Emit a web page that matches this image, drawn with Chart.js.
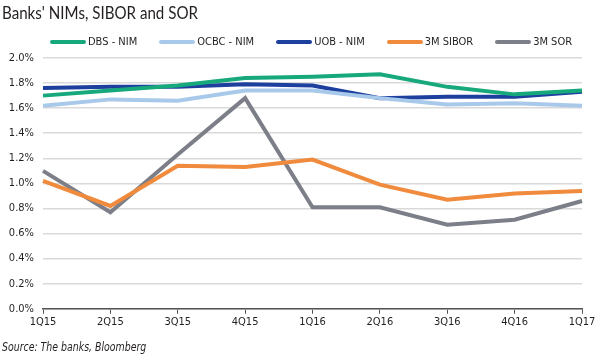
<!DOCTYPE html>
<html>
<head>
<meta charset="utf-8">
<script src="https://cdn.jsdelivr.net/npm/chart.js@4/dist/chart.umd.min.js"></script>
<style>
  body { margin: 0; background: #fff; }
  #wrap { position: relative; width: 600px; height: 360px; }
  #title { position: absolute; left: 2px; top: 1px; font-family: Lato, sans-serif; font-size: 18px; color: #231f20; transform: scaleX(0.84); transform-origin: 0 0; white-space: nowrap; }
  #source { position: absolute; left: 2px; top: 340px; font-family: "DejaVu Sans Condensed", sans-serif; font-style: italic; font-size: 12px; color: #231f20; transform: scaleX(0.87); transform-origin: 0 0; white-space: nowrap; }
  #legend { position: absolute; left: 50px; top: 35px; display: flex; font-family: "DejaVu Sans Condensed", sans-serif; font-size: 11px; color: #231f20; }
  .item { display: flex; align-items: center; margin-right: 22px; white-space: nowrap; }
  .swatch { width: 36px; height: 4px; border-radius: 2px; margin-right: 2px; }
  canvas { position: absolute; left: 0; top: 0; }
</style>
</head>
<body>
<div id="wrap">
  <canvas id="chart" width="600" height="360"></canvas>
  <div id="title">Banks' NIMs, SIBOR and SOR</div>
  <div id="legend"></div>
  <div id="source">Source: The banks, Bloomberg</div>
</div>
<script>
const quarters = ['1Q15', '2Q15', '3Q15', '4Q15', '1Q16', '2Q16', '3Q16', '4Q16', '1Q17'];
const dbsNim   = [1.70, 1.74, 1.78, 1.84, 1.85, 1.87, 1.77, 1.71, 1.74];
const ocbcNim  = [1.62, 1.67, 1.66, 1.74, 1.74, 1.68, 1.63, 1.64, 1.62];
const uobNim   = [1.76, 1.77, 1.77, 1.79, 1.78, 1.68, 1.69, 1.69, 1.73];
const sibor3m  = [1.02, 0.82, 1.14, 1.13, 1.19, 0.99, 0.87, 0.92, 0.94];
const sor3m    = [1.10, 0.77, 1.23, 1.68, 0.81, 0.81, 0.67, 0.71, 0.86];

const font = { family: '"DejaVu Sans Condensed", sans-serif', size: 11 };

function line(label, data, color) {
  return {
    label: label,
    data: data,
    borderColor: color,
    backgroundColor: color,
    borderWidth: 4,
    pointRadius: 0,
    tension: 0
  };
}

const chart = new Chart(document.getElementById('chart'), {
  type: 'line',
  data: {
    labels: quarters,
    datasets: [
      line('DBS - NIM', dbsNim, '#17a97b'),
      line('OCBC - NIM', ocbcNim, '#a9c9ea'),
      line('UOB - NIM', uobNim, '#1d3f9e'),
      line('3M SIBOR', sibor3m, '#f08a3c'),
      line('3M SOR', sor3m, '#7c7f88')
    ]
  },
  options: {
    responsive: false,
    animation: false,
    layout: { padding: { left: 0, right: 18, top: 58, bottom: 29 } },
    plugins: {
      tooltip: { enabled: false },
      legend: { display: false }
    },
    scales: {
      x: {
        offset: false,
        grid: {
          display: true,
          drawOnChartArea: false,
          drawTicks: true,
          tickLength: 5,
          color: '#555'
        },
        border: { color: '#555', width: 1.5 },
        ticks: { color: '#231f20', font: font, maxRotation: 0, padding: 2 }
      },
      y: {
        min: 0,
        max: 2.0,
        afterFit: function (scale) { scale.width = 43; },
        grid: { color: '#d9d9d9', lineWidth: 1.5, drawTicks: false },
        border: { display: false },
        ticks: {
          stepSize: 0.2,
          padding: 9,
          color: '#231f20',
          font: font,
          callback: function (v) { return v.toFixed(1) + '%'; }
        }
      }
    }
  }
});

// legend built from the datasets
const legend = document.getElementById('legend');
chart.data.datasets.forEach(function (ds) {
  const item = document.createElement('div');
  item.className = 'item';
  const sw = document.createElement('span');
  sw.className = 'swatch';
  sw.style.background = ds.borderColor;
  const txt = document.createElement('span');
  txt.textContent = ds.label;
  item.appendChild(sw);
  item.appendChild(txt);
  legend.appendChild(item);
});
</script>
</body>
</html>
